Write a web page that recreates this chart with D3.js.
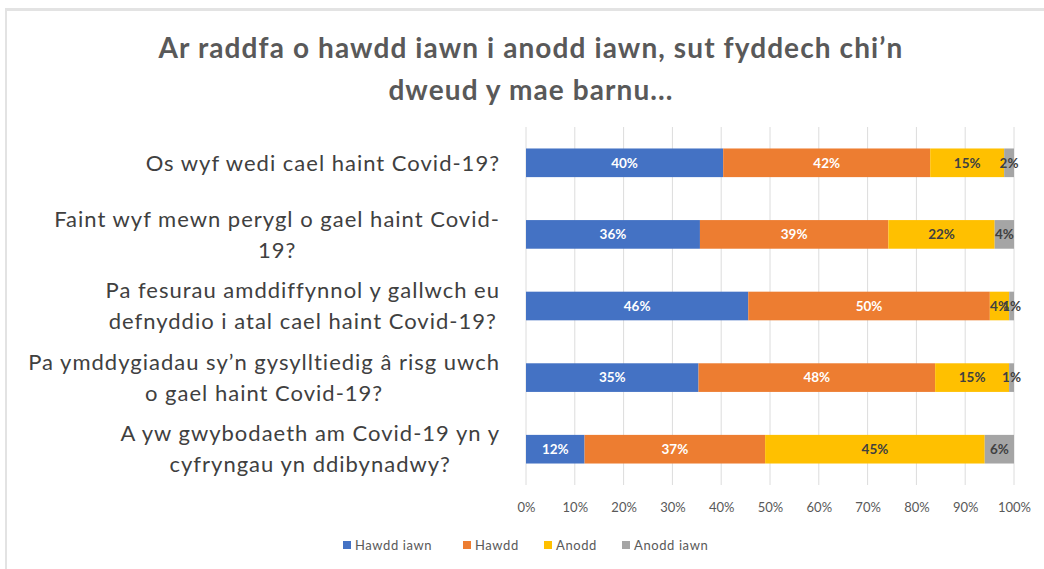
<!DOCTYPE html>
<html>
<head>
<meta charset="utf-8">
<script src="https://cdn.jsdelivr.net/npm/d3@7"></script>
<style>
  html, body { margin: 0; padding: 0; background: #ffffff; }
  svg { display: block; }
</style>
</head>
<body>
<svg id="chart" width="1044" height="569"></svg>
<script>
// Survey questions (wrapped into display lines)
const categories = [
  ["Os wyf wedi cael haint Covid-19?"],
  ["Faint wyf mewn perygl o gael haint Covid-", "19?"],
  ["Pa fesurau amddiffynnol y gallwch eu", "defnyddio i atal cael haint Covid-19?"],
  ["Pa ymddygiadau sy\u2019n gysylltiedig \u00e2 risg uwch", "o gael haint Covid-19?"],
  ["A yw gwybodaeth am Covid-19 yn y", "cyfryngau yn ddibynadwy?"]
];

// Response options
const seriesNames = ["Hawdd iawn", "Hawdd", "Anodd", "Anodd iawn"];

// Percentages per question, one array per response option
const hawddIawn = [40, 36, 46, 35, 12];
const hawdd     = [42, 39, 50, 48, 37];
const anodd     = [15, 22, 4, 15, 45];
const anoddIawn = [2, 4, 1, 1, 6];

const xTicks = [0, 0.1, 0.2, 0.3, 0.4, 0.5, 0.6, 0.7, 0.8, 0.9, 1.0];

const titleLines = [
  "Ar raddfa o hawdd iawn i anodd iawn, sut fyddech chi\u2019n",
  "dweud y mae barnu..."
];

const colors = ["#4472C4", "#ED7D31", "#FFC000", "#A5A5A5"];
const labelColors = ["#ffffff", "#ffffff", "#404040", "#404040"];

const svg = d3.select("#chart");
const W = 1044, H = 569;

// Frame edges
svg.append("rect").attr("x", 5).attr("y", 8).attr("width", W - 5).attr("height", 3).attr("fill", "#e3e3e3");
svg.append("rect").attr("x", 5).attr("y", 8).attr("width", 2).attr("height", H - 8).attr("fill", "#e3e3e3");

const fontMain = "Lato, 'Open Sans', sans-serif";

// Title
svg.selectAll("text.title").data(titleLines).join("text")
  .attr("class", "title")
  .attr("x", 531)
  .attr("y", (d, i) => 58 + i * 42)
  .attr("text-anchor", "middle")
  .attr("font-family", fontMain)
  .attr("font-weight", 700)
  .attr("font-size", 28)
  .attr("letter-spacing", 1.1)
  .attr("fill", "#595959")
  .text(d => d);

// Table of rows built from the series arrays
const rows = categories.map((c, i) => ({
  key: i,
  "Hawdd iawn": hawddIawn[i],
  "Hawdd": hawdd[i],
  "Anodd": anodd[i],
  "Anodd iawn": anoddIawn[i]
}));

const stack = d3.stack().keys(seriesNames).offset(d3.stackOffsetExpand);
const stacked = stack(rows);

const plot = { left: 526, right: 1014, top: 127, bottom: 485 };

const x = d3.scaleLinear().domain([0, 1]).range([plot.left, plot.right]);
const y = d3.scaleBand()
  .domain(categories.map((c, i) => i))
  .range([plot.top, plot.bottom])
  .paddingInner(0.6)
  .paddingOuter(0.3);

// Vertical gridlines
svg.append("g").selectAll("line").data(xTicks).join("line")
  .attr("x1", d => x(d)).attr("x2", d => x(d))
  .attr("y1", plot.top).attr("y2", plot.bottom)
  .attr("stroke", "#dcdcdc").attr("stroke-width", 1);

// X axis tick labels
const xAxis = d3.axisBottom(x).tickValues(xTicks).tickFormat(d3.format(".0%")).tickSize(0).tickPadding(0);
const gx = svg.append("g").attr("transform", `translate(0,${plot.bottom + 27})`).call(xAxis);
gx.select(".domain").remove();
gx.selectAll("text")
  .attr("font-family", fontMain)
  .attr("font-size", 13)
  .attr("fill", "#595959")
  .attr("dy", 0);

// Stacked bars
const layers = svg.append("g").selectAll("g").data(stacked).join("g")
  .attr("fill", (d, i) => colors[i]);

layers.selectAll("rect").data(d => d).join("rect")
  .attr("x", d => x(d[0]))
  .attr("width", d => x(d[1]) - x(d[0]))
  .attr("y", d => y(d.data.key))
  .attr("height", y.bandwidth());

// Value labels
const labelG = svg.append("g");
stacked.forEach((layer, li) => {
  labelG.selectAll(null).data(layer).join("text")
    .attr("x", d => (x(d[0]) + x(d[1])) / 2)
    .attr("y", d => y(d.data.key) + y.bandwidth() / 2)
    .attr("dy", "0.35em")
    .attr("text-anchor", "middle")
    .attr("font-family", fontMain)
    .attr("font-weight", 700)
    .attr("font-size", 13.5)
    .attr("fill", labelColors[li])
    .text(d => d.data[layer.key] + "%");
});

// Category labels: centered lines, block right-aligned to the axis
const catG = svg.append("g");
categories.forEach((lines, i) => {
  const cy = y(i) + y.bandwidth() / 2;
  const lh = 31;
  const g = catG.append("g");
  const texts = g.selectAll("text").data(lines).join("text")
    .attr("y", (d, j) => cy + (j - (lines.length - 1) / 2) * lh)
    .attr("dy", "0.35em")
    .attr("text-anchor", "middle")
    .attr("font-family", fontMain)
    .attr("font-size", 22)
    .attr("letter-spacing", 1.0)
    .attr("fill", "#404040")
    .text(d => d);
  let maxW = 0;
  texts.each(function () { maxW = Math.max(maxW, this.getComputedTextLength()); });
  texts.attr("x", 500 - maxW / 2);
});

// Legend
const legendX = [347, 467, 548, 626];
const legend = svg.append("g").selectAll("g").data(seriesNames).join("g")
  .attr("transform", (d, i) => `translate(${legendX[i]},545)`);
legend.append("rect")
  .attr("x", -4).attr("y", -4).attr("width", 8).attr("height", 8)
  .attr("fill", (d, i) => colors[i]);
legend.append("text")
  .attr("x", 8).attr("dy", "0.35em")
  .attr("font-family", fontMain)
  .attr("font-size", 13)
  .attr("letter-spacing", 0.6)
  .attr("fill", "#595959")
  .text(d => d);
</script>
</body>
</html>
